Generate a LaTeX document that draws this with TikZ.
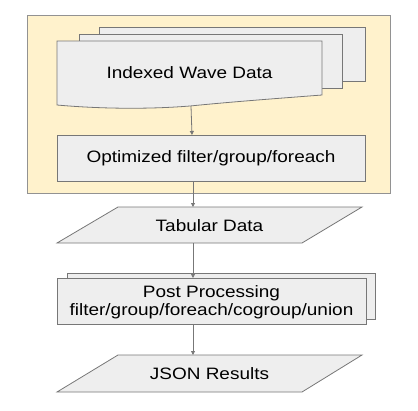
\documentclass[tikz,border=0pt]{standalone}
\usepackage{fontspec}
\setmainfont{Liberation Sans}[FakeStretch=1.15]
\usetikzlibrary{arrows.meta}
\definecolor{pale}{HTML}{FFF2CC}
\definecolor{boxfill}{HTML}{EEEEEE}
\definecolor{edge}{HTML}{777777}
\begin{document}
\begin{tikzpicture}[x=1pt,y=-1pt,
  lbl/.style={font=\fontsize{16.5}{18.5}\selectfont, text=black, align=center, inner sep=0pt},
  shp/.style={draw=edge, fill=boxfill, line width=0.8pt},
  prbox/.style={shp, rectangle, anchor=north west, inner sep=0pt},
  arr/.style={draw=edge, line width=0.8pt, -{Triangle[length=4pt,width=4pt]}}]
\useasboundingbox (0,0) rectangle (418,410);
% container
\node[draw=edge!80, fill=pale, line width=0.8pt, rectangle, anchor=north west, inner sep=0pt,
  minimum width=363pt, minimum height=178pt] (frame) at (27,15) {};
% stacked documents
\node[prbox, minimum width=266pt, minimum height=54pt] (docc) at (99,27) {};
\node[prbox, minimum width=263pt, minimum height=54pt] (docb) at (79,34) {};
\path[shp] (57,41) -- (322,41) -- (322,95)
  .. controls (270,99) and (230,102) .. (190,106)
  .. controls (140,110) and (90,108) .. (57,105) -- cycle;
\node[lbl] (doc) at (189.5,73) {Indexed Wave Data};
\coordinate (docbot) at (191,106);
% optimized box
\node[prbox, minimum width=308pt, minimum height=46pt] (optbg) at (57,135) {};
\node[lbl] (opt) at (211,158) {Optimized filter/group/foreach};
% tabular data
\path[shp] (118,207) -- (362,207) -- (302,243) -- (57,243) -- cycle;
\coordinate (tabtop) at (193,207);
\coordinate (tabbot) at (193,243);
\node[lbl] (tabt) at (209.5,226) {Tabular Data};
% post processing
\node[prbox, minimum width=308pt, minimum height=46pt] (postb) at (67,273) {};
\node[prbox, minimum width=309pt, minimum height=46pt] (postf) at (57,278) {};
\node[lbl] (post) at (211.5,302) {Post Processing\\filter/group/foreach/cogroup/union};
% json
\path[shp] (118,355) -- (362,355) -- (302,392) -- (57,392) -- cycle;
\coordinate (jsontop) at (193,355);
\node[lbl] (jsont) at (209.5,374) {JSON Results};
% connectors
\coordinate (ax) at (193,0);
\draw[arr] (docbot) -- (optbg.north -| 192,0);
\draw[arr] (optbg.south -| ax) -- (tabtop);
\draw[arr] (tabbot) -- (postf.north -| ax);
\draw[arr] (postf.south -| ax) -- (jsontop);
\end{tikzpicture}
\end{document}
